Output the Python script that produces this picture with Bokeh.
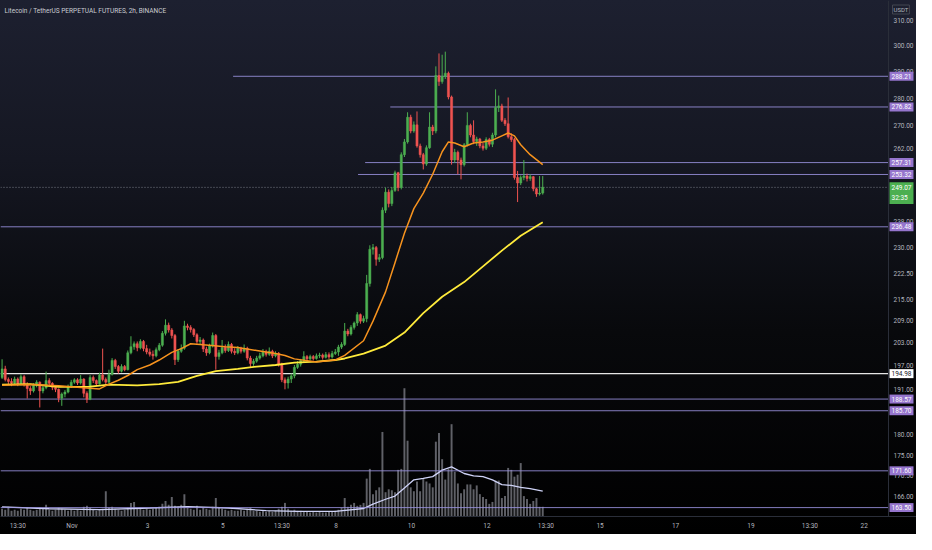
import numpy as np
import pandas as pd
from bokeh.plotting import figure
from bokeh.models import Range1d, LinearScale, FixedTicker, Span, Label
from bokeh.core.properties import value
from bokeh.embed import file_html
from bokeh.resources import INLINE

TITLE = "Litecoin / TetherUS PERPETUAL FUTURES, 2h, BINANCE"
LAST_BAR_OPEN = "2021-11-13 11:30"
BAR_HOURS = 2
FIRST_OPEN = 194.0

close = [
    196.2, 193.5, 193.0, 192.5, 193.6, 192.4, 194.2, 192.2, 191.2, 190.6,
    192.0, 192.8, 190.6, 191.4, 193.2, 192.5, 191.5, 191.0, 188.8, 189.8,
    190.3, 191.8, 192.8, 193.4, 192.6, 193.6, 190.0, 188.5, 194.0, 193.2,
    192.4, 194.6, 193.5, 192.8, 194.8, 198.4, 196.8, 195.6, 196.8, 196.0,
    200.4, 202.0, 202.8, 201.7, 203.4, 201.5, 200.6, 200.0, 199.6, 201.2,
    202.4, 205.6, 207.8, 206.5, 205.0, 198.6, 200.8, 201.6, 207.6, 207.2,
    206.6, 205.2, 203.4, 203.8, 201.4, 200.4, 202.2, 205.0, 199.4, 200.4,
    201.8, 201.0, 202.6, 200.8, 200.4, 201.6, 200.8, 201.6, 199.0, 197.6,
    198.2, 199.0, 199.6, 200.6, 200.0, 200.8, 199.6, 200.2, 197.4, 193.4,
    192.6, 193.6, 194.4, 196.6, 197.4, 198.4, 199.4, 198.8, 199.4, 198.9,
    199.6, 199.8, 199.2, 199.9, 199.3, 200.2, 200.6, 201.9, 202.6, 206.2,
    205.4, 207.2, 208.4, 210.7, 208.9, 209.6, 219.5, 229.6, 230.1, 226.6,
    227.1, 241.7, 247.5, 243.8, 248.0, 253.9, 249.0, 260.0, 264.4, 273.1,
    268.2, 270.4, 263.0, 260.0, 256.8, 262.4, 269.6, 268.2, 288.5, 286.2,
    288.2, 289.4, 280.5, 258.2, 260.8, 258.2, 256.6, 263.4, 270.2, 266.8,
    264.5, 265.4, 263.0, 262.2, 265.2, 263.6, 266.8, 276.6, 277.2, 272.0,
    270.8, 266.2, 265.2, 252.3, 250.5, 252.3, 252.8, 252.0, 252.6, 248.6,
    246.9, 247.2, 249.07,
]
high = [
    198.7, 197.0, 194.0, 193.8, 194.2, 194.0, 194.8, 194.6, 192.8, 191.8,
    192.5, 193.3, 193.0, 191.9, 195.5, 193.8, 192.8, 191.8, 191.2, 190.2,
    190.8, 192.2, 193.4, 193.8, 193.8, 194.6, 193.8, 190.5, 194.6, 194.5,
    193.5, 195.2, 201.5, 194.0, 196.0, 199.0, 198.8, 197.2, 197.4, 197.2,
    201.0, 204.8, 203.4, 203.4, 204.0, 203.8, 202.5, 201.5, 201.0, 201.8,
    203.0, 206.2, 209.4, 208.5, 207.0, 205.4, 201.4, 202.6, 209.0, 208.2,
    207.8, 207.0, 205.6, 204.6, 204.2, 202.0, 202.8, 205.8, 205.4, 201.2,
    203.8, 202.6, 203.4, 203.0, 201.6, 202.2, 202.0, 202.6, 202.0, 199.6,
    198.8, 199.6, 200.4, 201.4, 201.2, 201.8, 201.2, 200.8, 200.6, 197.8,
    194.0, 194.2, 195.0, 197.2, 198.2, 198.8, 200.8, 199.8, 199.9, 199.8,
    200.2, 200.4, 200.2, 200.6, 200.5, 200.9, 201.4, 202.5, 203.2, 208.4,
    206.8, 207.8, 208.8, 211.4, 211.0, 210.4, 222.0, 230.8, 231.2, 230.6,
    228.2, 242.6, 249.0, 248.4, 249.2, 254.6, 254.2, 260.8, 265.4, 274.9,
    274.0, 271.6, 275.2, 263.8, 260.6, 263.2, 274.9, 270.4, 292.0, 297.0,
    296.5, 297.7, 290.0, 281.0, 262.0, 261.4, 259.0, 264.0, 274.9, 270.8,
    272.0, 266.2, 265.8, 264.0, 266.0, 265.8, 267.6, 283.3, 281.0, 278.0,
    272.8, 280.3, 267.4, 265.8, 254.5, 253.0, 258.2, 253.6, 253.4, 252.8,
    249.0, 252.8, 252.8,
]
low = [
    193.6, 193.0, 192.3, 191.8, 192.2, 191.8, 192.0, 191.7, 188.7, 189.6,
    190.2, 191.5, 186.5, 190.0, 191.0, 192.0, 190.8, 190.3, 187.8, 186.9,
    189.0, 190.0, 191.4, 192.4, 192.1, 192.2, 189.0, 187.6, 188.3, 192.6,
    191.8, 192.2, 193.0, 192.2, 192.5, 194.5, 196.2, 195.0, 195.3, 195.6,
    195.8, 200.0, 201.2, 200.8, 201.3, 200.8, 200.0, 199.4, 198.6, 199.2,
    200.8, 202.0, 205.0, 205.8, 204.2, 197.2, 198.0, 200.4, 201.2, 206.4,
    205.8, 204.6, 202.8, 202.6, 200.6, 199.6, 200.0, 201.8, 196.0, 198.6,
    200.0, 200.4, 200.6, 200.2, 199.8, 200.0, 200.2, 200.4, 198.4, 196.6,
    197.0, 197.8, 198.6, 199.2, 199.4, 199.6, 199.0, 199.2, 196.8, 192.8,
    191.0, 191.2, 192.6, 193.8, 196.2, 196.8, 197.8, 198.2, 198.4, 198.4,
    198.6, 199.0, 198.6, 198.9, 198.8, 198.9, 199.8, 199.6, 201.4, 202.2,
    204.8, 205.0, 206.6, 207.6, 208.2, 208.4, 208.6, 218.6, 228.0, 224.7,
    225.8, 226.6, 240.8, 242.6, 243.0, 247.6, 247.8, 248.4, 259.2, 263.8,
    267.4, 267.6, 262.4, 259.0, 255.0, 256.2, 262.0, 266.8, 267.4, 284.6,
    285.4, 287.2, 279.6, 256.6, 257.2, 253.4, 251.7, 256.0, 262.8, 266.0,
    263.6, 263.0, 262.2, 261.4, 261.6, 262.8, 262.6, 266.0, 275.0, 271.4,
    270.0, 265.6, 264.4, 251.6, 244.3, 249.8, 251.4, 251.0, 251.2, 247.8,
    246.0, 246.4, 246.7,
]
volume_k = [
    32, 28, 40, 24, 28, 24, 32, 28, 36, 28,
    24, 28, 36, 32, 48, 28, 24, 28, 36, 32,
    28, 24, 28, 24, 28, 24, 40, 44, 36, 28,
    24, 28, 32, 104, 36, 40, 32, 28, 24, 28,
    36, 56, 60, 32, 36, 28, 32, 28, 32, 36,
    40, 52, 64, 48, 80, 44, 40, 48, 92, 36,
    32, 28, 44, 28, 36, 32, 28, 40, 76, 36,
    32, 28, 24, 28, 24, 24, 28, 24, 32, 36,
    24, 24, 20, 24, 20, 24, 20, 24, 32, 40,
    56, 32, 24, 28, 24, 24, 20, 20, 16, 20,
    16, 20, 16, 16, 20, 20, 24, 28, 36, 76,
    40, 48, 56, 44, 48, 56, 156, 196, 92, 108,
    120, 348, 100, 112, 108, 100, 192, 196, 528, 312,
    120, 104, 144, 104, 156, 144, 136, 120, 308, 344,
    236, 152, 196, 380, 184, 136, 96, 112, 132, 132,
    112, 128, 92, 80, 72, 52, 60, 148, 148, 76,
    84, 200, 192, 164, 172, 220, 84, 72, 52, 64,
    76, 40, 40,
]

# indicator lines (bar index, value)
ema_idx = [0, 9, 18, 31, 34, 37, 40, 43, 47, 50, 54, 57, 60, 64, 71, 75, 81, 87, 90, 93,
           100, 106, 109, 115, 118, 122, 125, 128, 131, 134, 137, 140, 142, 144, 147, 150,
           153, 156, 159, 161, 163, 165, 168, 172]
ema_val = [192.0, 192.2, 191.9, 191.1, 192.3, 193.3, 194.5, 196.0, 197.2, 198.5, 200.5, 201.5,
           202.8, 202.5, 202.0, 201.8, 201.0, 200.2, 199.7, 198.8, 198.0, 198.5, 199.7, 203.6,
           208.9, 217.1, 225.6, 234.5, 242.2, 247.2, 253.4, 261.0, 264.4, 264.0, 262.7, 264.0,
           264.4, 265.0, 266.5, 267.5, 266.5, 263.4, 260.0, 256.6]
ma_idx = [0, 9, 18, 28, 34, 43, 50, 56, 62, 68, 75, 81, 87, 93, 100, 106, 109, 115, 122, 128,
          134, 140, 147, 153, 159, 165, 172]
ma_val = [192.2, 192.3, 191.6, 191.7, 192.2, 192.0, 192.3, 192.9, 194.4, 195.6, 196.2, 196.8,
          197.2, 197.8, 198.1, 198.5, 198.9, 200.2, 202.3, 205.8, 211.1, 215.7, 219.9, 224.5,
          229.2, 233.7, 237.9]
vol_ma_idx = [0, 15, 31, 47, 59, 72, 84, 94, 106, 115, 118, 122, 125, 128, 131, 134, 137, 140,
              143, 147, 150, 153, 156, 159, 162, 165, 168, 172]
vol_ma_val = [40, 32, 28, 35, 41, 35, 24, 21, 21, 33, 51, 71, 84, 117, 151, 157, 164, 191, 204,
              177, 167, 164, 151, 131, 128, 120, 115, 104]

ray_prices = [288.21, 276.82, 257.31, 253.32]
ray_starts = ["2021-11-05 06:30", "2021-11-09 10:30", "2021-11-08 18:30", "2021-11-08 14:00"]
span_prices = [236.48, 188.57, 185.70, 171.60, 163.50]
white_price = 194.98
last_price = 249.07
countdown = "32:35"

y_ticks = [310, 300, 290, 280, 270, 262, 238, 230, 222.5, 215, 209, 203, 197, 191, 180, 175, 170.5, 166]
x_tick_times = ["2021-10-30 13:30", "2021-11-01 00:00", "2021-11-03 00:00", "2021-11-05 00:00",
                "2021-11-06 13:30", "2021-11-08 00:00", "2021-11-10 00:00", "2021-11-12 00:00",
                "2021-11-13 13:30", "2021-11-15 00:00", "2021-11-17 00:00", "2021-11-19 00:00",
                "2021-11-20 13:30", "2021-11-22 00:00"]
x_tick_labels = ["13:30", "Nov", "3", "5", "13:30", "8", "10", "12", "13:30", "15", "17", "19",
                 "13:30", "22"]

view_start = "2021-10-30 02:30"
view_end = "2021-11-22 15:30"      # right edge of the candle pane (price scale strip follows)
price_lo, price_hi = 161.6, 318.4
vol_top_k = 2124

GREEN = "#4caf50"
RED = "#ef5350"
LEVEL = "#9b93e0"
LABEL_BG = "#9575cd"
AXIS_TXT = "#b2b5be"
FONT = "Roboto"

W, H = 916, 534
PANE_W = 888          # width of candle pane; the rest is the price-scale strip


def ms(t):
    return int(pd.Timestamp(t).value // 10**6)


n = len(close)
bar_ms = BAR_HOURS * 3600 * 1000
t_last = ms(LAST_BAR_OPEN)
xs = np.array([t_last - (n - 1 - i) * bar_ms for i in range(n)], dtype=float)
closes = np.array(close)
opens = np.array([FIRST_OPEN] + close[:-1])
up = closes >= opens
colors = [GREEN if u else RED for u in up]

x0, xb = ms(view_start), ms(view_end)
x1 = x0 + (xb - x0) * W / PANE_W

p = figure(width=W, height=H, x_range=Range1d(x0, x1), y_range=Range1d(price_lo, price_hi),
           y_axis_type="log", y_axis_location=None, output_backend="svg",
           toolbar_location=None, min_border_left=0, min_border_top=0,
           min_border_right=0, min_border_bottom=18)
p.extra_y_ranges = {"vol": Range1d(0, vol_top_k)}
p.extra_y_scales = {"vol": LinearScale()}

p.background_fill_alpha = 0
p.border_fill_alpha = 0
p.outline_line_color = None
p.styles = {"background": "linear-gradient(180deg, #1d2030 0%, #151722 30%, #08090c 62%, #000000 100%)"}
p.xgrid.visible = False
p.ygrid.visible = False

ax = p.xaxis[0]
ax.major_tick_line_color = None
ax.minor_tick_line_color = None
ax.major_tick_out = 0
ax.major_tick_in = 0
ax.minor_tick_out = 0
ax.minor_tick_in = 0
ax.major_label_text_color = AXIS_TXT
ax.major_label_text_font_size = "6.5px"
ax.major_label_text_font = FONT
ax.axis_line_color = "#2a2e39"
ax.ticker = FixedTicker(ticks=[ms(t) for t in x_tick_times], minor_ticks=[])
ax.major_label_overrides = {ms(t): lab for t, lab in zip(x_tick_times, x_tick_labels)}
ax.major_label_standoff = 5

# pane separator
p.add_layout(Span(location=xb, dimension="height", line_color="#2a2e39", line_width=1))

# price scale (log) labels in the right strip
p.text(x=[xb] * len(y_ticks), y=y_ticks, text=[f"{t:.2f}" for t in y_ticks], x_offset=5,
       text_align="left", text_baseline="middle", text_color=AXIS_TXT,
       text_font=value(FONT), text_font_size=value("6.5px"))

# volume
p.vbar(x=xs, width=bar_ms * 0.62, top=volume_k, bottom=0, y_range_name="vol",
       fill_color="#a3a6b0", line_color=None, fill_alpha=0.58)
p.line(x=xs[vol_ma_idx], y=vol_ma_val, y_range_name="vol", line_color="#cfd3f7", line_width=1.3)

# horizontal levels (stop at the pane edge)
p.segment(x0=[ms(t) for t in ray_starts], y0=ray_prices, x1=xb, y1=ray_prices,
          line_color=LEVEL, line_width=1, line_alpha=0.85)
p.segment(x0=x0, y0=span_prices, x1=xb, y1=span_prices,
          line_color=LEVEL, line_width=1, line_alpha=0.85)
p.segment(x0=[x0], y0=[white_price], x1=[xb], y1=[white_price], line_color="#e6e6e6", line_width=1.3)
p.segment(x0=[x0], y0=[last_price], x1=[xb], y1=[last_price], line_color="#787b86", line_width=1,
          line_dash="1 2")

# candles
p.segment(x0=xs, y0=low, x1=xs, y1=high, line_color=colors, line_width=1)
p.vbar(x=xs, width=bar_ms * 0.68, top=np.maximum(opens, closes), bottom=np.minimum(opens, closes),
       fill_color=colors, line_color=colors, line_width=0.5)

# moving averages
p.line(x=xs[ma_idx], y=ma_val, line_color="#ffeb3b", line_width=1.8)
p.line(x=xs[ema_idx], y=ema_val, line_color="#f7931e", line_width=1.5)

# right-hand price tags
for lv in ray_prices + span_prices:
    p.add_layout(Label(x=xb, y=lv, text=f"{lv:.2f}", x_offset=1, text_align="left",
                       text_baseline="middle", text_font_size="6.5px", text_font=FONT,
                       text_color="#ffffff", background_fill_color=LABEL_BG, padding=2))
p.add_layout(Label(x=xb, y=white_price, text=f"{white_price:.2f}", x_offset=1, text_align="left",
                   text_baseline="middle", text_font_size="6.5px", text_font=FONT,
                   text_color="#131722", background_fill_color="#ffffff", padding=2))
p.add_layout(Label(x=xb, y=last_price, text=f"{last_price:.2f}\n{countdown}", x_offset=1,
                   y_offset=5, text_align="left", text_baseline="top", text_font_size="6.5px",
                   text_font=FONT, text_color="#ffffff", background_fill_color=GREEN, padding=2))
p.add_layout(Label(x=xb, y=price_hi, text="USDT", x_offset=4, y_offset=-9, text_align="left",
                   text_baseline="middle", text_font_size="6px", text_font=FONT,
                   text_color=AXIS_TXT, border_line_color="#434651", padding=1))
p.add_layout(Label(x=x0, y=price_hi, text=TITLE, x_offset=4, y_offset=-10, text_align="left",
                   text_baseline="middle", text_font_size="6.5px", text_font=FONT,
                   text_color="#c9cbd1"))

open("out.html", "w").write(file_html(p, INLINE))
